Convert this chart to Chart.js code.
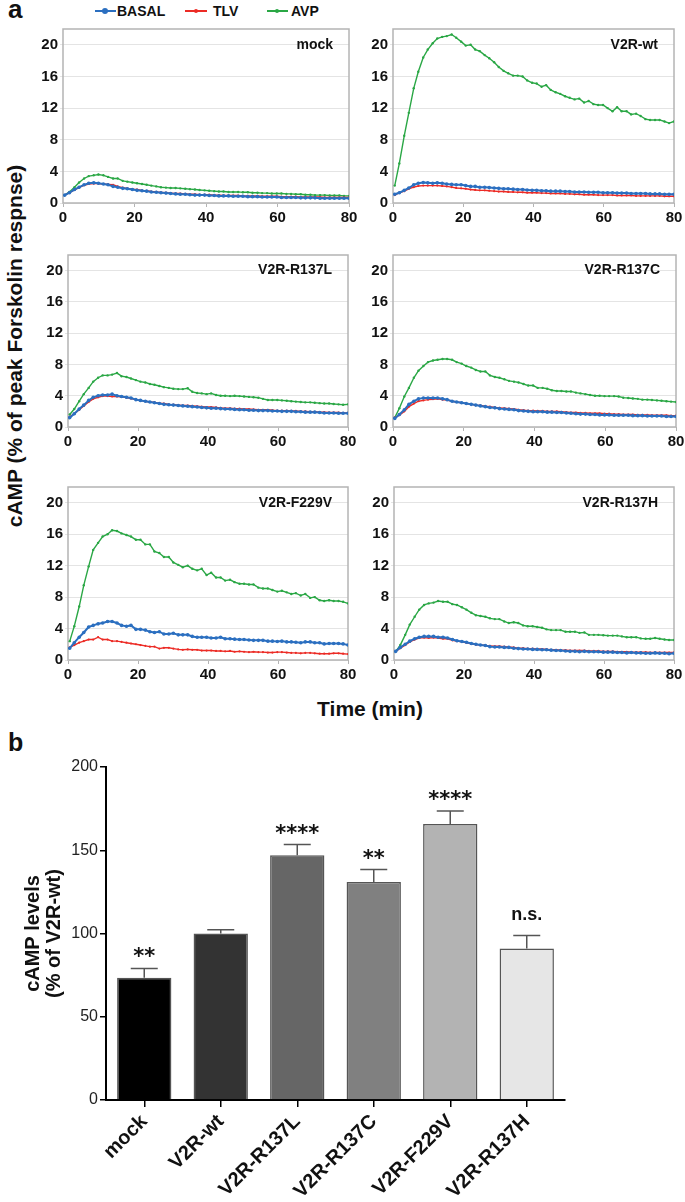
<!DOCTYPE html>
<html>
<head>
<meta charset="utf-8">
<script src="https://cdn.jsdelivr.net/npm/chart.js@4.4.1/dist/chart.umd.min.js"></script>
<style>
  body { margin: 0; background: #fff; width: 685px; height: 1202px; position: relative; overflow: hidden;
         font-family: "Liberation Sans", Arial, sans-serif; color: #111; }
  canvas { position: absolute; }
  .txt { position: absolute; font-weight: bold; white-space: nowrap; line-height: 1; }
  .legline { position: absolute; height: 2px; top: 10px; }
  .legdot { position: absolute; border-radius: 50%; }
</style>
</head>
<body>

<div class="txt" style="left:8px; top:-4px; font-size:26px;">a</div>
<div class="txt" style="left:8px; top:730px; font-size:25px;">b</div>

<!-- legend -->
<div class="legline" style="left:95px; width:21px; background:#2b6fc0;"></div>
<div class="legdot" style="left:102px; top:8px; width:6px; height:6px; background:#2b6fc0;"></div>
<div class="txt" style="left:117px; top:4px; font-size:14px;">BASAL</div>
<div class="legline" style="left:185px; width:22px; height:1.5px; background:#ec2b25;"></div>
<div class="legdot" style="left:194px; top:9px; width:4px; height:4px; background:#ec2b25;"></div>
<div class="txt" style="left:213px; top:4px; font-size:14px;">TLV</div>
<div class="legline" style="left:267px; width:21px; height:1.5px; background:#2aa745;"></div>
<div class="legdot" style="left:275px; top:9px; width:4px; height:4px; background:#2aa745;"></div>
<div class="txt" style="left:291px; top:4px; font-size:14px;">AVP</div>

<div class="txt" style="left:14px; top:346px; font-size:21px; transform:translate(-50%,-50%) rotate(-90deg);">cAMP (% of peak Forskolin respnse)</div>
<div class="txt" style="left:370px; top:708px; font-size:21px; transform:translate(-50%,-50%);">Time (min)</div>

<script>
// time points (min)
const time = [0.5,1.8,3.2,4.5,5.9,7.2,8.6,9.9,11.3,12.6,
  14.0,15.3,16.7,18.0,19.4,20.7,22.1,23.4,24.7,26.1,
  27.4,28.8,30.1,31.5,32.8,34.2,35.5,36.9,38.2,39.6,
  40.9,42.3,43.6,44.9,46.3,47.6,49.0,50.3,51.7,53.0,
  54.4,55.7,57.1,58.4,59.8,61.1,62.5,63.8,65.1,66.5,
  67.8,69.2,70.5,71.9,73.2,74.6,75.9,77.3,78.6,80.0];

// mock
const mockBasal = [1.0,1.3,1.7,2.0,2.3,2.5,2.55,2.5,2.4,2.3,
  2.1,2.0,1.85,1.8,1.7,1.6,1.55,1.5,1.4,1.35,
  1.3,1.25,1.2,1.15,1.1,1.1,1.05,1.0,1.0,1.0,
  0.95,0.95,0.9,0.9,0.9,0.85,0.85,0.85,0.8,0.8,
  0.8,0.75,0.75,0.75,0.75,0.7,0.7,0.7,0.7,0.65,
  0.65,0.65,0.65,0.6,0.6,0.6,0.6,0.6,0.6,0.6];
const mockTlv = [1.0,1.3,1.65,1.95,2.25,2.4,2.45,2.45,2.4,2.35,
  2.3,2.1,1.95,1.85,1.75,1.7,1.6,1.55,1.45,1.4,
  1.35,1.3,1.25,1.2,1.2,1.15,1.1,1.1,1.05,1.05,
  1.05,1.0,1.0,0.95,0.95,0.95,0.95,0.9,0.9,0.9,
  0.9,0.85,0.85,0.85,0.85,0.8,0.8,0.8,0.8,0.75,
  0.75,0.75,0.75,0.75,0.7,0.7,0.7,0.7,0.7,0.7];
const mockAvp = [1.0,1.4,2.0,2.6,3.1,3.4,3.5,3.6,3.5,3.3,
  3.1,3.1,2.8,2.7,2.6,2.5,2.4,2.3,2.2,2.1,
  2.0,1.95,1.9,1.9,1.85,1.8,1.75,1.7,1.65,1.6,
  1.55,1.5,1.45,1.45,1.4,1.4,1.4,1.35,1.35,1.3,
  1.3,1.25,1.25,1.2,1.2,1.2,1.15,1.15,1.1,1.1,
  1.05,1.05,1.0,1.0,1.0,0.95,0.95,0.95,0.9,0.9];

// V2R-wt
const wtBasal = [1.1,1.3,1.6,1.9,2.3,2.5,2.6,2.55,2.5,2.55,
  2.5,2.4,2.35,2.3,2.3,2.2,2.1,2.1,2.0,2.0,
  1.95,1.9,1.85,1.8,1.8,1.75,1.7,1.7,1.65,1.6,
  1.6,1.55,1.55,1.5,1.5,1.5,1.45,1.45,1.4,1.4,
  1.4,1.35,1.35,1.35,1.3,1.3,1.3,1.25,1.25,1.25,
  1.2,1.2,1.2,1.2,1.15,1.15,1.15,1.1,1.1,1.1];
const wtTlv = [1.0,1.3,1.5,1.8,2.0,2.15,2.2,2.2,2.2,2.2,
  2.15,2.1,2.0,1.9,1.85,1.8,1.7,1.65,1.6,1.6,
  1.55,1.5,1.45,1.45,1.4,1.4,1.35,1.35,1.3,1.3,
  1.3,1.25,1.25,1.2,1.2,1.2,1.15,1.15,1.1,1.1,
  1.05,1.05,1.05,1.0,1.0,1.0,1.0,0.95,0.95,0.95,
  0.95,0.9,0.9,0.9,0.9,0.9,0.9,0.85,0.85,0.85];
const wtAvp = [2.2,5.0,8.5,11.4,14.5,16.6,18.4,19.4,20.2,20.8,
  21.0,21.1,21.3,20.9,20.4,19.9,20.0,19.4,19.2,18.7,
  18.3,17.8,17.2,16.7,16.4,16.1,16.1,16.0,15.5,15.2,
  15.1,14.7,14.9,14.3,14.0,13.8,13.5,13.3,13.1,13.2,
  12.7,12.9,12.5,12.4,12.4,12.0,11.6,12.1,11.6,11.6,
  11.2,11.3,11.0,10.6,10.5,10.5,10.5,10.3,10.1,10.3];

// V2R-R137L
const r137lBasal = [1.2,1.7,2.3,2.8,3.4,3.8,4.0,4.1,4.1,4.2,
  4.0,3.9,3.8,3.7,3.5,3.4,3.3,3.2,3.1,3.0,
  2.9,2.85,2.8,2.75,2.7,2.65,2.6,2.55,2.5,2.45,
  2.4,2.4,2.35,2.3,2.3,2.25,2.2,2.2,2.15,2.15,
  2.1,2.1,2.1,2.05,2.05,2.0,2.0,2.0,1.95,1.95,
  1.9,1.9,1.9,1.85,1.8,1.8,1.8,1.75,1.75,1.75];
const r137lTlv = [1.3,1.7,2.2,2.7,3.2,3.6,3.8,3.95,3.95,3.9,
  3.9,3.85,3.75,3.65,3.5,3.4,3.3,3.2,3.15,3.05,
  3.0,2.9,2.85,2.8,2.75,2.75,2.7,2.65,2.6,2.55,
  2.55,2.5,2.45,2.4,2.4,2.35,2.35,2.3,2.3,2.25,
  2.2,2.2,2.2,2.15,2.1,2.1,2.1,2.05,2.05,2.0,
  2.0,1.95,1.95,1.9,1.9,1.85,1.85,1.85,1.8,1.8];
const r137lAvp = [1.6,2.3,3.3,4.2,5.0,5.8,6.3,6.6,6.6,6.7,
  6.9,6.5,6.4,6.2,6.0,5.8,5.7,5.5,5.4,5.25,
  5.1,5.0,4.9,4.85,4.85,4.95,4.5,4.35,4.3,4.2,
  4.3,4.1,4.0,4.0,3.95,4.0,3.95,3.9,3.85,3.8,
  3.75,3.6,3.45,3.45,3.45,3.4,3.35,3.3,3.25,3.2,
  3.15,3.15,3.1,3.05,3.0,3.0,2.95,2.9,2.85,2.9];

// V2R-R137C
const r137cBasal = [1.1,1.6,2.2,2.9,3.3,3.6,3.7,3.7,3.7,3.7,
  3.6,3.5,3.3,3.2,3.1,3.0,2.9,2.8,2.7,2.6,
  2.5,2.45,2.35,2.3,2.25,2.2,2.1,2.05,2.0,1.95,
  1.95,1.95,1.9,1.9,1.85,1.85,1.8,1.75,1.7,1.65,
  1.65,1.6,1.6,1.55,1.55,1.55,1.5,1.5,1.5,1.5,
  1.45,1.45,1.45,1.4,1.4,1.4,1.4,1.35,1.35,1.35];
const r137cTlv = [1.2,1.5,2.0,2.6,3.0,3.3,3.4,3.5,3.55,3.6,
  3.5,3.45,3.3,3.2,3.1,3.0,2.9,2.8,2.75,2.65,
  2.6,2.5,2.45,2.4,2.35,2.3,2.2,2.15,2.1,2.1,
  2.05,2.05,2.0,2.0,2.0,1.95,1.9,1.85,1.85,1.8,
  1.8,1.75,1.75,1.75,1.7,1.7,1.65,1.65,1.6,1.6,
  1.6,1.55,1.55,1.55,1.5,1.5,1.5,1.5,1.45,1.45];
const r137cAvp = [1.2,2.4,3.9,5.0,6.3,7.2,7.8,8.3,8.5,8.6,
  8.7,8.7,8.6,8.3,8.1,7.8,7.6,7.3,7.1,7.1,
  6.6,6.4,6.3,6.1,5.9,5.8,5.7,5.5,5.3,5.3,
  5.0,5.0,4.9,4.7,4.6,4.6,4.55,4.55,4.4,4.3,
  4.2,4.1,4.0,4.0,3.95,3.95,3.95,3.9,3.75,3.7,
  3.65,3.6,3.5,3.5,3.45,3.4,3.35,3.3,3.25,3.2];

// V2R-F229V
const f229vBasal = [1.5,2.2,2.9,3.5,4.2,4.4,4.6,4.7,4.9,4.9,
  4.7,4.4,4.3,4.4,3.9,3.9,3.8,3.6,3.5,3.6,
  3.3,3.3,3.4,3.2,3.2,3.2,3.0,2.9,2.9,2.9,
  2.8,2.8,2.9,2.7,2.7,2.65,2.6,2.6,2.55,2.5,
  2.5,2.5,2.4,2.4,2.35,2.4,2.3,2.3,2.25,2.2,
  2.3,2.3,2.2,2.2,2.05,2.1,2.1,2.1,2.05,1.9];
const f229vTlv = [1.6,1.9,2.2,2.4,2.6,2.6,2.9,2.6,2.6,2.4,
  2.4,2.3,2.2,2.1,2.0,1.9,1.8,1.7,1.7,1.45,
  1.55,1.55,1.45,1.35,1.3,1.35,1.3,1.3,1.2,1.2,
  1.2,1.15,1.15,1.1,1.15,1.05,1.1,1.05,1.0,1.05,
  1.0,1.0,0.95,0.95,1.0,1.0,0.95,0.9,0.9,0.85,
  0.9,0.9,0.85,0.8,0.8,0.8,0.85,0.85,0.8,0.75];
const f229vAvp = [2.4,4.3,6.8,9.5,11.9,14.0,14.9,15.7,16.0,16.5,
  16.4,16.1,15.9,15.7,15.3,15.3,14.7,14.7,13.8,13.6,
  13.1,13.1,12.4,12.1,11.8,12.0,11.6,11.4,11.6,10.8,
  11.1,10.5,10.5,10.1,10.2,9.9,9.7,9.7,9.6,9.6,
  9.2,9.1,9.1,8.9,8.7,8.8,8.6,8.4,8.5,8.2,
  8.4,7.9,8.0,7.6,7.5,7.6,7.5,7.5,7.4,7.2];

// V2R-R137H
const r137hBasal = [1.1,1.6,2.0,2.4,2.7,2.9,3.0,3.0,3.0,2.9,
  2.9,2.8,2.6,2.45,2.35,2.25,2.1,2.0,1.9,1.85,
  1.7,1.65,1.65,1.6,1.6,1.5,1.45,1.4,1.4,1.35,
  1.35,1.3,1.3,1.25,1.2,1.2,1.15,1.1,1.1,1.05,
  1.1,1.05,1.05,1.05,1.0,1.0,1.0,0.95,0.95,0.9,
  0.95,0.9,0.9,0.85,0.85,0.9,0.85,0.85,0.8,0.85];
const r137hTlv = [1.1,1.5,1.9,2.3,2.6,2.8,2.85,2.8,2.85,2.8,
  2.7,2.7,2.5,2.4,2.3,2.2,2.05,1.95,1.9,1.85,
  1.8,1.75,1.75,1.7,1.65,1.6,1.5,1.5,1.45,1.45,
  1.4,1.4,1.35,1.3,1.3,1.25,1.25,1.2,1.2,1.2,
  1.2,1.15,1.15,1.15,1.1,1.1,1.1,1.05,1.05,1.05,
  1.0,1.0,1.0,1.0,0.95,0.95,0.95,0.95,0.95,0.95];
const r137hAvp = [1.1,1.9,3.2,4.5,5.5,6.4,7.0,7.2,7.3,7.5,
  7.4,7.4,7.1,7.0,6.7,6.4,6.0,5.7,5.6,5.5,
  5.3,5.2,5.2,4.9,4.7,4.8,4.7,4.4,4.3,4.3,
  4.2,4.1,3.9,3.8,3.8,3.8,3.6,3.6,3.6,3.45,
  3.5,3.2,3.2,3.2,3.15,3.1,3.1,3.1,3.0,2.9,
  2.9,2.9,2.75,2.7,2.7,2.8,2.7,2.6,2.55,2.55];

// panel b
const barLabels = ['mock', 'V2R-wt', 'V2R-R137L', 'V2R-R137C', 'V2R-F229V', 'V2R-R137H'];
const barMeans = [73.4, 100, 147, 131, 165.8, 91];
const barSem = [5.6, 2.2, 6.4, 7.4, 7.8, 7.8];
const barSig = ['**', '', '****', '**', '****', 'n.s.'];

const FONT = '"Liberation Sans", Arial, sans-serif';
Chart.defaults.font.family = FONT;
Chart.defaults.color = '#111';

const BLUE = '#2b6fc0', RED = '#ec2b25', GREEN = '#2aa745';
const barColors = ['#000000', '#333333', '#666666', '#808080', '#b3b3b3', '#e6e6e6'];

// grey frame around each panel's plot area
const boxPlugin = {
  id: 'box',
  beforeDatasetsDraw(chart) {
    const a = chart.chartArea, ctx = chart.ctx;
    ctx.save();
    ctx.strokeStyle = '#b4b4b4';
    ctx.lineWidth = 1.5;
    ctx.strokeRect(a.left, a.top, a.right - a.left, a.bottom - a.top);
    ctx.restore();
  }
};

// panel name in top right corner
const panelTitle = {
  id: 'panelTitle',
  afterDraw(chart, args, opts) {
    const ctx = chart.ctx;
    ctx.save();
    ctx.font = 'bold 14px ' + FONT;
    ctx.fillStyle = '#111';
    ctx.textAlign = 'right';
    ctx.textBaseline = 'middle';
    ctx.fillText(opts.text, chart.chartArea.right - 16, chart.scales.y.getPixelForValue(20));
    ctx.restore();
  }
};

const pts = arr => time.map((t, i) => ({ x: t, y: arr[i] }));

const panels = [
  { name: 'mock',      L: 63,  T: 24,  R: 349, B: 203, s: [mockBasal, mockTlv, mockAvp] },
  { name: 'V2R-wt',    L: 393, T: 24,  R: 674, B: 203, s: [wtBasal, wtTlv, wtAvp] },
  { name: 'V2R-R137L', L: 68,  T: 250, R: 348, B: 427, s: [r137lBasal, r137lTlv, r137lAvp] },
  { name: 'V2R-R137C', L: 393, T: 250, R: 676, B: 427, s: [r137cBasal, r137cTlv, r137cAvp] },
  { name: 'V2R-F229V', L: 68,  T: 482, R: 348, B: 660, s: [f229vBasal, f229vTlv, f229vAvp] },
  { name: 'V2R-R137H', L: 394, T: 482, R: 674, B: 660, s: [r137hBasal, r137hTlv, r137hAvp] }
];

panels.forEach(p => {
  const c = document.createElement('canvas');
  const w = p.R - p.L + 45 + 12, h = p.B - p.T + 6 + 26;
  c.width = w; c.height = h;
  c.style.left = (p.L - 45) + 'px';
  c.style.top = (p.T - 6) + 'px';
  c.style.width = w + 'px';
  c.style.height = h + 'px';
  document.body.appendChild(c);

  new Chart(c, {
    type: 'line',
    data: {
      datasets: [
        { label: 'BASAL', data: pts(p.s[0]), borderColor: BLUE, backgroundColor: BLUE,
          borderWidth: 2, pointRadius: 1.8, pointBorderWidth: 0 },
        { label: 'TLV', data: pts(p.s[1]), borderColor: RED, backgroundColor: RED,
          borderWidth: 1.4, pointRadius: 1.1, pointBorderWidth: 0 },
        { label: 'AVP', data: pts(p.s[2]), borderColor: GREEN, backgroundColor: GREEN,
          borderWidth: 1.4, pointRadius: 1.2, pointBorderWidth: 0 }
      ]
    },
    options: {
      responsive: false,
      animation: false,
      layout: { padding: { top: 6, right: 12, left: 0, bottom: 0 } },
      plugins: {
        legend: { display: false },
        tooltip: { enabled: false },
        panelTitle: { text: p.name }
      },
      scales: {
        x: {
          type: 'linear', min: 0, max: 80,
          ticks: { stepSize: 20, font: { size: 15, weight: 'bold' }, color: '#111', padding: 2 },
          grid: { drawOnChartArea: false, tickLength: 4, color: '#b4b4b4' },
          border: { display: false },
          afterFit(s) { s.height = 26; }
        },
        y: {
          min: 0, max: 22,
          ticks: { stepSize: 4, includeBounds: false, font: { size: 15, weight: 'bold' }, color: '#111', padding: 2 },
          grid: { color: '#e4e4e4', tickLength: 3, lineWidth: 1 },
          border: { display: false },
          afterFit(s) { s.width = 45; }
        }
      }
    },
    plugins: [boxPlugin, panelTitle]
  });
});

// error bars and significance marks
const errPlugin = {
  id: 'errBars',
  afterDatasetsDraw(chart) {
    const ctx = chart.ctx, y = chart.scales.y;
    chart.getDatasetMeta(0).data.forEach((bar, i) => {
      const top = y.getPixelForValue(barMeans[i] + barSem[i]);
      ctx.save();
      ctx.strokeStyle = '#555';
      ctx.lineWidth = 1.5;
      ctx.beginPath();
      ctx.moveTo(bar.x, bar.y);
      ctx.lineTo(bar.x, top);
      ctx.moveTo(bar.x - 13.5, top);
      ctx.lineTo(bar.x + 13.5, top);
      ctx.stroke();
      if (barSig[i]) {
        ctx.fillStyle = '#111';
        ctx.textAlign = 'center';
        ctx.textBaseline = 'alphabetic';
        if (barSig[i].startsWith('*')) {
          ctx.font = 'bold 21px "DejaVu Sans"';
          ctx.fillText(barSig[i], bar.x, top - 5);
        } else {
          ctx.font = 'bold 18px ' + FONT;
          ctx.fillText(barSig[i], bar.x, top - 15);
        }
      }
      ctx.restore();
    });
  }
};

const bc = document.createElement('canvas');
bc.width = 685; bc.height = 452;
bc.style.left = '0px'; bc.style.top = '750px';
bc.style.width = '685px'; bc.style.height = '452px';
document.body.appendChild(bc);

new Chart(bc, {
  type: 'bar',
  data: {
    labels: barLabels,
    datasets: [{
      data: barMeans,
      backgroundColor: barColors,
      borderColor: '#555',
      borderWidth: 1.5,
      barPercentage: 0.71,
      categoryPercentage: 1
    }]
  },
  options: {
    responsive: false,
    animation: false,
    layout: { padding: { top: 17, right: 120, left: 0, bottom: 0 } },
    plugins: { legend: { display: false }, tooltip: { enabled: false } },
    scales: {
      x: {
        grid: { drawOnChartArea: false, offset: false, tickLength: 7, color: '#000', lineWidth: 1.5 },
        border: { color: '#000', width: 2 },
        ticks: { minRotation: 45, maxRotation: 45, font: { size: 20, weight: 'bold' }, color: '#111', padding: 3 },
        afterFit(s) { s.height = 102; }
      },
      y: {
        min: 0, max: 200,
        ticks: { stepSize: 50, font: { size: 16 }, color: '#222', padding: 2 },
        grid: { drawOnChartArea: false, tickLength: 6, color: '#000', lineWidth: 1.5 },
        border: { color: '#000', width: 2 },
        title: {
          display: true,
          text: ['cAMP levels', '(% of V2R-wt)'],
          font: { size: 20, weight: 'bold', lineHeight: 1.05 },
          color: '#111',
          padding: { top: 22.5, bottom: 0 }
        },
        afterFit(s) { s.width = 106; }
      }
    }
  },
  plugins: [errPlugin]
});
</script>
</body>
</html>
